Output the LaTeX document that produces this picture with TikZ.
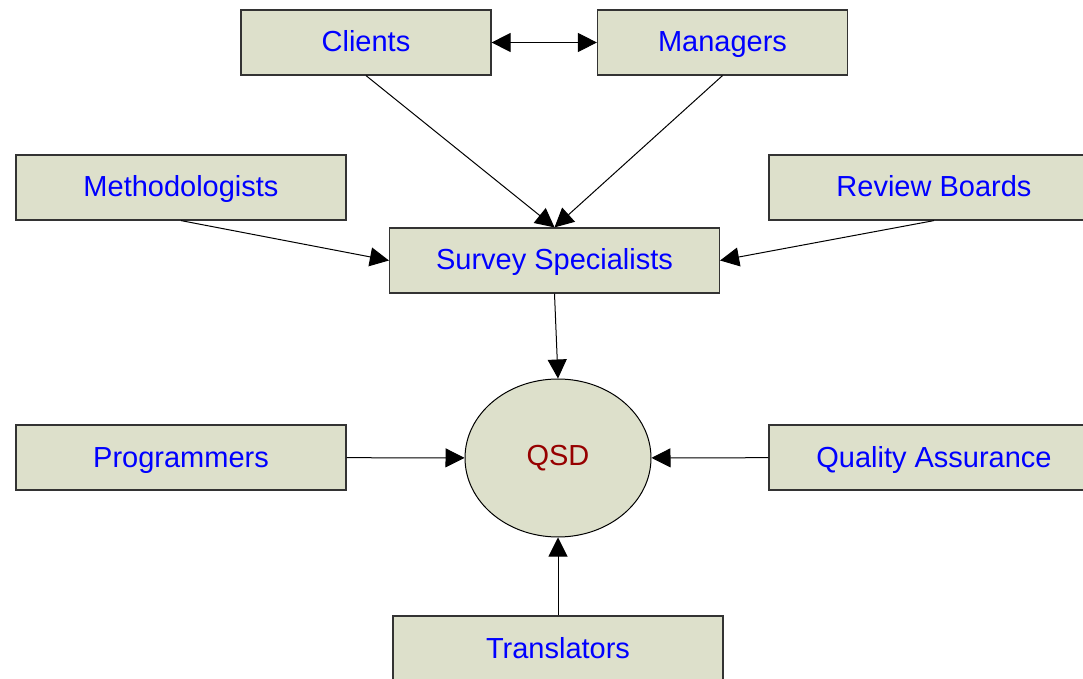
\documentclass[tikz,border=0pt]{standalone}
\usepackage{fontspec}
\setmainfont{Liberation Sans}
\usetikzlibrary{arrows.meta,shapes.geometric}
\definecolor{boxfill}{RGB}{221,224,203}
\definecolor{qsdred}{RGB}{150,0,0}
\begin{document}
\begin{tikzpicture}[x=0.5pt,y=-0.5pt,
  role/.style={draw=black!80,line width=0.6pt,fill=boxfill,minimum width=165pt,
    minimum height=32.5pt,inner sep=0pt,text height=12.5pt,text depth=3pt,
    text=blue,font=\fontsize{14.5}{17}\selectfont},
  small/.style={role,minimum width=125pt},
  link/.style={line width=0.5pt,-{Triangle[length=9.5pt,width=9.5pt]}}]
% page size and cut at the edges
\useasboundingbox (0,0) rectangle (1083,679);
\clip (0,0) rectangle (1083,679);
% top row
\node[small] (clients) at (366,42.5) {Clients};
\node[small] (managers) at (722.5,42.5) {Managers};
% second row
\node[role] (method) at (181,187.5) {Methodologists};
\node[role] (review) at (934,187.5) {Review Boards};
\node[role] (survey) at (554.5,260.5) {Survey Specialists};
% centre
\node[ellipse,draw=black,line width=0.5pt,fill=boxfill,minimum width=93pt,minimum height=79pt,
  inner sep=0pt,text=qsdred,font=\fontsize{14.5}{17}\selectfont] (qsd) at (558,458) {QSD};
\node[role] (prog) at (181,457.5) {Programmers};
\node[role] (qa) at (934,457.5) {Quality Assurance};
\node[role] (trans) at (558,648.5) {Translators};
% connectors
\draw[line width=0.5pt,{Triangle[length=9.5pt,width=9.5pt]}-{Triangle[length=9.5pt,width=9.5pt]}] (clients) -- (managers);
\draw[link] (clients.south) -- (survey.north);
\draw[link] (managers.south) -- (survey.north);
\draw[link] (method.south) -- (survey.west);
\draw[link] (review.south) -- (survey.east);
\draw[link] (survey.south) -- (qsd.north);
\draw[link] (prog) -- (qsd);
\draw[link] (qa) -- (qsd);
\draw[link] (trans) -- (qsd);
\end{tikzpicture}
\end{document}
